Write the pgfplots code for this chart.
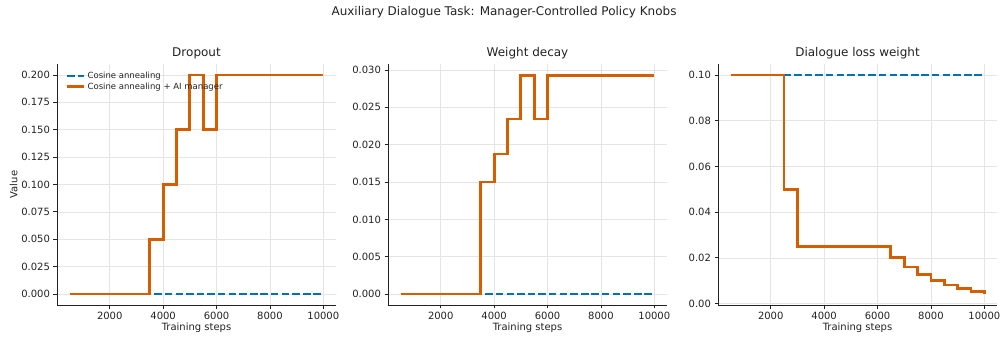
\documentclass[border=0pt]{standalone}
\usepackage{fontspec}
\setmainfont{DejaVu Sans}
\usepackage{pgfplots}
\pgfplotsset{compat=1.18}
\definecolor{cblue}{HTML}{0072B2}
\definecolor{corange}{HTML}{D55E00}
\definecolor{txt}{HTML}{222222}
\pgfplotsset{
  knob/.style={
    scale only axis, width=279pt, height=241pt,
    axis lines*=left,
    axis line style={line width=0.8pt, color=txt},
    tick align=outside, major tick length=3.5pt,
    tick style={line width=0.8pt, color=txt},
    xtick pos=bottom, ytick pos=left,
    grid=major, major grid style={line width=0.6pt, color=black!10},
    xmin=25, xmax=10475,
    xtick={2000,4000,6000,8000,10000},
    scaled x ticks=false, scaled y ticks=false,
    /pgf/number format/assume math mode=true,
    x tick label style={font=\fontsize{10}{12}\selectfont, text=txt, /pgf/number format/1000 sep={}},
    y tick label style={font=\fontsize{10}{12}\selectfont, text=txt},
    xlabel={Training steps},
    xlabel style={font=\fontsize{10}{12}\selectfont, text=txt, yshift=4pt},
    title style={font=\fontsize{12}{14}\selectfont, text=txt, yshift=-5pt},
    anchor=south west,
  },
  base/.style={cblue, line width=2pt, dash pattern=on 7.4pt off 3.2pt},
  mgr/.style={corange, line width=2.8pt, const plot mark left},
}
\begin{document}
\begin{tikzpicture}
\path[use as bounding box] (0,0) rectangle (1007pt,343pt);
\node[font=\fontsize{12}{14}\selectfont, text=txt] at (504pt,331pt) {Auxiliary Dialogue Task: Manager-Controlled Policy Knobs};

\begin{axis}[knob, at={(57pt,38pt)},
  title={Dropout},
  ymin=-0.01, ymax=0.21,
  ytick={0,0.025,0.05,0.075,0.1,0.125,0.15,0.175,0.2},
  yticklabel style={/pgf/number format/.cd, fixed, fixed zerofill, precision=3},
  ylabel={Value},
  ylabel style={font=\fontsize{10}{12}\selectfont, text=txt, yshift=-3pt},
  legend style={at={(0.02,0.985)}, anchor=north west, draw=none, fill=none,
    font=\fontsize{8.5}{10}\selectfont, text=txt, row sep=-1pt},
  legend cell align=left,
]
\addplot[base] coordinates {(500,0) (1000,0) (1500,0) (2000,0) (2500,0) (3000,0) (3500,0) (4000,0) (4500,0) (5000,0) (5500,0) (6000,0) (6500,0) (7000,0) (7500,0) (8000,0) (8500,0) (9000,0) (9500,0) (10000,0)};
\addlegendentry{Cosine annealing}
\addplot[mgr] coordinates {(500,0) (1000,0) (1500,0) (2000,0) (2500,0) (3000,0) (3500,0.05) (4000,0.1) (4500,0.15) (5000,0.2) (5500,0.15) (6000,0.2) (6500,0.2) (7000,0.2) (7500,0.2) (8000,0.2) (8500,0.2) (9000,0.2) (9500,0.2) (10000,0.2)};
\addlegendentry{Cosine annealing + AI manager}
\end{axis}

\begin{axis}[knob, at={(388pt,38pt)},
  title={Weight decay},
  ymin=-0.00146, ymax=0.0308,
  ytick={0,0.005,0.01,0.015,0.02,0.025,0.03},
  yticklabel style={/pgf/number format/.cd, fixed, fixed zerofill, precision=3},
]
\addplot[base] coordinates {(500,0) (1000,0) (1500,0) (2000,0) (2500,0) (3000,0) (3500,0) (4000,0) (4500,0) (5000,0) (5500,0) (6000,0) (6500,0) (7000,0) (7500,0) (8000,0) (8500,0) (9000,0) (9500,0) (10000,0)};
\addplot[mgr] coordinates {(500,0) (1000,0) (1500,0) (2000,0) (2500,0) (3000,0) (3500,0.015) (4000,0.01875) (4500,0.02344) (5000,0.0293) (5500,0.02344) (6000,0.0293) (6500,0.0293) (7000,0.0293) (7500,0.0293) (8000,0.0293) (8500,0.0293) (9000,0.0293) (9500,0.0293) (10000,0.0293)};
\end{axis}

\begin{axis}[knob, at={(718pt,38pt)},
  title={Dialogue loss weight},
  ymin=-0.0006, ymax=0.1048,
  ytick={0,0.02,0.04,0.06,0.08,0.1},
  yticklabel style={/pgf/number format/.cd, fixed, fixed zerofill, precision=2},
]
\addplot[base] coordinates {(500,0.1) (1000,0.1) (1500,0.1) (2000,0.1) (2500,0.1) (3000,0.1) (3500,0.1) (4000,0.1) (4500,0.1) (5000,0.1) (5500,0.1) (6000,0.1) (6500,0.1) (7000,0.1) (7500,0.1) (8000,0.1) (8500,0.1) (9000,0.1) (9500,0.1) (10000,0.1)};
\addplot[mgr] coordinates {(500,0.1) (1000,0.1) (1500,0.1) (2000,0.1) (2500,0.05) (3000,0.025) (3500,0.025) (4000,0.025) (4500,0.025) (5000,0.025) (5500,0.025) (6000,0.025) (6500,0.02) (7000,0.016) (7500,0.0128) (8000,0.01024) (8500,0.00819) (9000,0.00655) (9500,0.00524) (10000,0.0042)};
\end{axis}
\end{tikzpicture}
\end{document}
